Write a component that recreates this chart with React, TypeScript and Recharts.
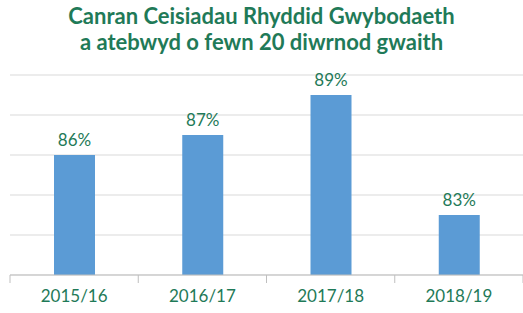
import { BarChart, Bar, XAxis, YAxis, CartesianGrid, LabelList } from "recharts";

const years = ["2015/16", "2016/17", "2017/18", "2018/19"];
const percentages = [86, 87, 89, 83];
const yTicks = [80, 82, 84, 86, 88, 90];

const data = years.map((year, i) => ({ year, value: percentages[i] }));

const FONT = "Lato, 'Open Sans', sans-serif";
const GREEN = "#1f7a58";
const BAND = 128.25;

const YearTick = ({ x, y, payload, index }: any) => (
  <g>
    <line x1={x - BAND / 2} x2={x - BAND / 2} y1={y - 8} y2={y} stroke="#bfbfbf" />
    {index === years.length - 1 && (
      <line x1={x + BAND / 2} x2={x + BAND / 2} y1={y - 8} y2={y} stroke="#bfbfbf" />
    )}
    <text x={x} y={y + 19} textAnchor="middle" fill={GREEN} fontSize={17} fontFamily={FONT}>
      {payload.value}
    </text>
  </g>
);

export default function App() {
  return (
    <div style={{ width: 523, height: 313, background: "#fff", fontFamily: FONT }}>
      <style>{`body{margin:0}`}</style>
      <div
        style={{
          height: 60,
          textAlign: "center",
          color: GREEN,
          fontWeight: 700,
          fontSize: 22,
          lineHeight: "26px",
          paddingTop: 3,
          boxSizing: "border-box",
        }}
      >
        Canran Ceisiadau Rhyddid Gwybodaeth
        <br />
        a atebwyd o fewn 20 diwrnod gwaith
      </div>
      <BarChart
        width={523}
        height={253}
        data={data}
        margin={{ top: 15, right: 0, left: 10, bottom: 0 }}
      >
        <CartesianGrid vertical={false} stroke="#d9d9d9" />
        <YAxis hide domain={[80, 90]} ticks={yTicks} />
        <XAxis
          dataKey="year"
          height={38}
          axisLine={{ stroke: "#bfbfbf" }}
          tickLine={false}
          tick={<YearTick />}
          interval={0}
        />
        <Bar dataKey="value" fill="#5b9bd5" barSize={41} isAnimationActive={false}>
          <LabelList
            dataKey="value"
            position="top"
            offset={9}
            formatter={(v: any) => `${v}%`}
            fill={GREEN}
            fontSize={17}
            fontFamily={FONT}
          />
        </Bar>
      </BarChart>
    </div>
  );
}
